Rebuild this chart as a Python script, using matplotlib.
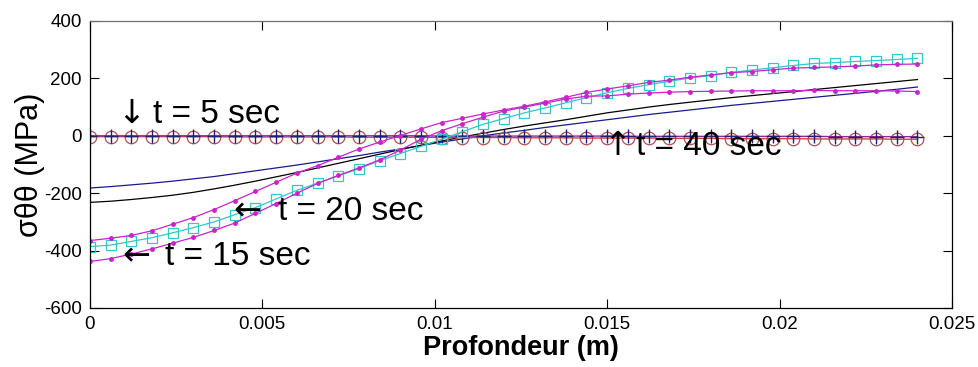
import numpy as np
import matplotlib
matplotlib.use('Agg')
import matplotlib.pyplot as plt

plt.rcParams['font.family'] = ['Liberation Sans', 'DejaVu Sans']
plt.rcParams['axes.unicode_minus'] = False

# depth grid (m), 41 points from 0 to 0.024
depth = np.linspace(0, 0.024, 41)

# stress profiles (MPa)
circles_red = [-3, -3, -3, -3, -3, -3, -3, -4, -4, -4, -4, -4, -4, -5, -5, -5,
               -5, -6, -6, -6, -6, -7, -7, -7, -8, -8, -8, -8, -9, -9, -9, -10,
               -10, -10, -10, -11, -11, -11, -11, -12, -12]
plus_navy = [0, 0, 0, 0, 0, 0, 0, 0, 0, 0, 0, 0, 0, 0, 0, 0, 0, -1, -1, -1, -1,
             -1, -1, -1, -1, -1, -2, -2, -2, -2, -2, -2, -2, -2, -2, -2, -3, -3,
             -3, -3, -3]
blue_line = [-182, -177, -171, -165, -158, -150, -142, -132, -122, -112, -102,
             -91, -80, -69, -57, -46, -34, -22, -11, 0, 10, 19, 29, 38, 47, 56,
             65, 74, 82, 90, 98, 106, 113, 120, 127, 134, 141, 148, 155, 162, 170]
black_line = [-232, -228, -222, -215, -207, -197, -185, -172, -158, -143, -128,
              -112, -96, -80, -64, -48, -33, -18, -4, 9, 22, 34, 45, 56, 68, 80,
              90, 100, 109, 117, 125, 133, 140, 147, 154, 161, 168, 175, 182,
              189, 196]
magenta_a = [-365, -357, -347, -331, -308, -285, -257, -226, -194, -162, -130,
             -104, -75, -46, -22, 1, 24, 46, 61, 76, 90, 103, 118, 134, 151, 163,
             174, 186, 194, 204, 212, 220, 224, 230, 236, 238, 240, 243, 247,
             249, 250]
magenta_b = [-438, -428, -412, -394, -374, -354, -330, -304, -270, -236, -200,
             -166, -138, -112, -84, -50, -12, 18, 42, 65, 86, 100, 114, 128, 138,
             139, 145, 149, 152, 154, 155, 156, 157, 157, 157, 158, 157, 157, 157,
             156, 154]
cyan_sq = [-386, -381, -368, -355, -338, -320, -300, -275, -250, -220, -190,
           -165, -140, -115, -87, -62, -37, -12, 14, 40, 60, 80, 97, 115, 133, 150,
           165, 178, 190, 201, 210, 221, 229, 237, 245, 252, 255, 259, 262, 266, 270]

# annotation: arrow glyph, arrow x, text, text x, baseline y
labels = [('\u2193', 0.00078, 't = 5 sec', 0.00183, 45),
          ('\u2190', 0.00415, 't = 20 sec', 0.00545, -293),
          ('\u2190', 0.00093, 't = 15 sec', 0.00218, -450),
          ('\u2191', 0.01488, 't = 40 sec', 0.01584, -67)]

fig = plt.figure(figsize=(9.79, 3.67), dpi=100)
ax = fig.add_axes([0.0919, 0.1608, 0.8805, 0.782])

ax.plot(depth, blue_line, color='#1a1a8c', lw=0.9)
ax.plot(depth, black_line, color='black', lw=0.9)
ax.plot(depth, circles_red, color='#d04040', lw=1.0, marker='o', ms=9,
        mfc='none', mec='#b05050', mew=0.9)
ax.plot(depth, plus_navy, color='#8a2a9a', lw=1.0, marker='+', ms=10,
        mec='#202070', mew=1.0)
ax.plot(depth, cyan_sq, color='#30c8c8', lw=0.9, marker='s', ms=7,
        mfc='none', mec='#30c8c8', mew=0.9)
ax.plot(depth, magenta_a, color='#cc22cc', lw=0.9, marker='.', ms=5,
        mfc='#cc22cc', mec='#cc22cc')
ax.plot(depth, magenta_b, color='#cc22cc', lw=0.9, marker='.', ms=5,
        mfc='#cc22cc', mec='#cc22cc')

for arrow, xa, txt, xt, y in labels:
    ax.text(xa, y, arrow, fontsize=24, va='baseline', ha='left',
            family='DejaVu Sans', color='black')
    ax.text(xt, y, txt, fontsize=24, va='baseline', ha='left', color='black')

ax.set_xlim(0, 0.025)
ax.set_ylim(-600, 400)
ax.set_xticks([0, 0.005, 0.01, 0.015, 0.02, 0.025])
ax.set_xticklabels(['0', '0.005', '0.01', '0.015', '0.02', '0.025'])
ax.set_yticks([-600, -400, -200, 0, 200, 400])
ax.tick_params(direction='in', length=6.5, width=0.8, top=True, right=True,
               labelsize=13.5, pad=6)
for s in ax.spines.values():
    s.set_linewidth(0.9)
ax.spines['top'].set_color('#707070')

ax.set_xlabel('Profondeur (m)', fontsize=19.5, fontweight='bold', labelpad=1)
ax.set_ylabel('\u03c3\u03b8\u03b8 (MPa)', fontsize=22, labelpad=-1)

fig.savefig('out.png', dpi=100)
